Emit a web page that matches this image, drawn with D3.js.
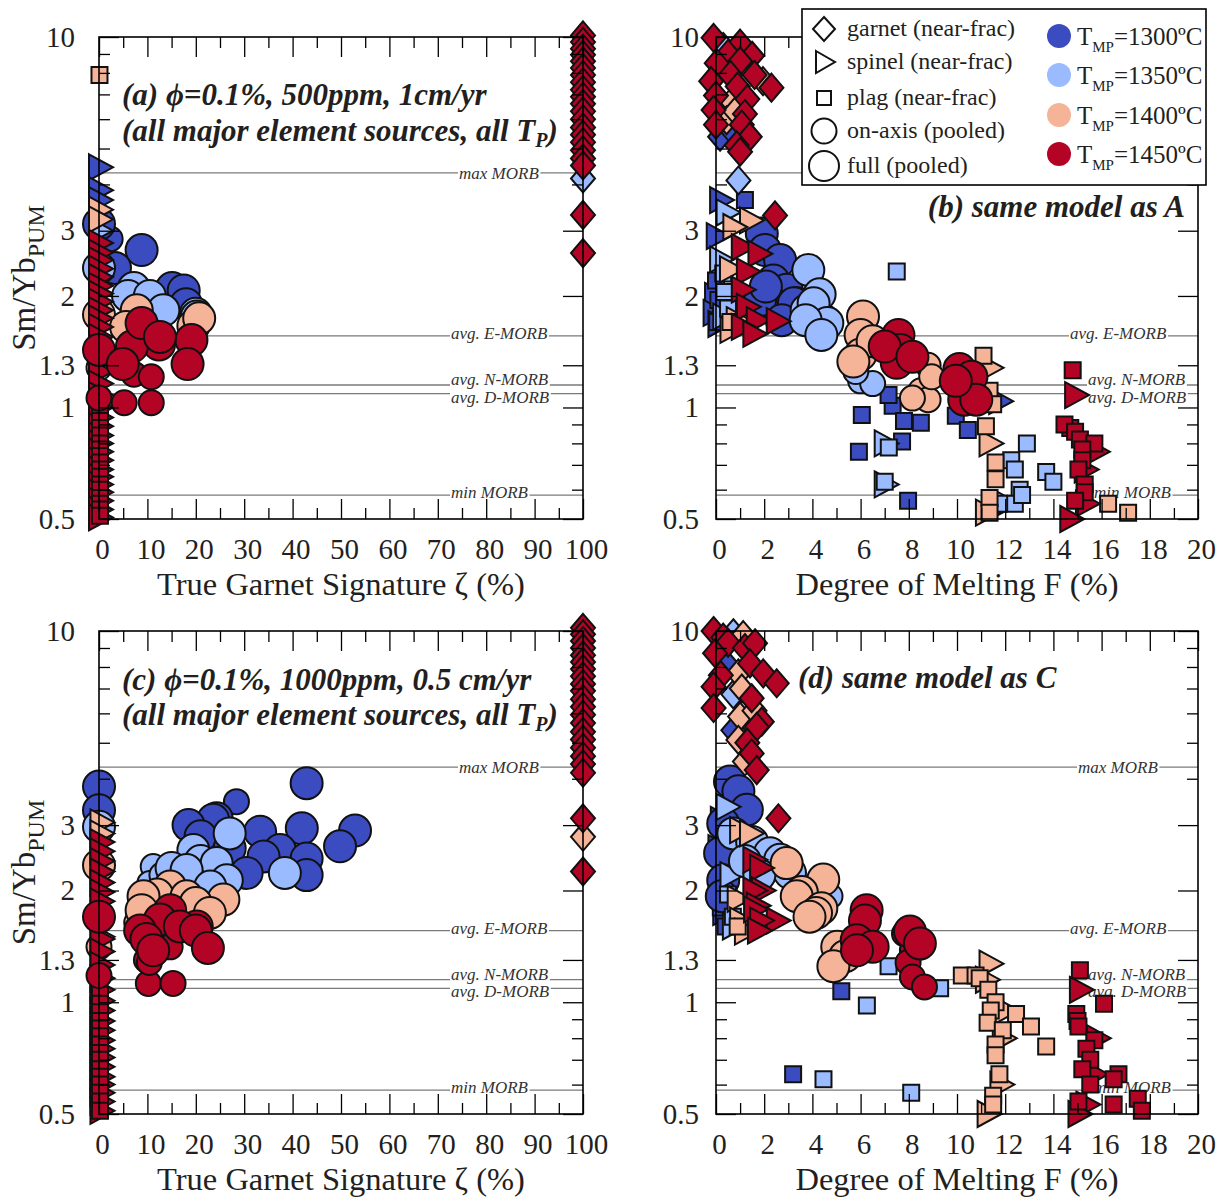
<!DOCTYPE html>
<html>
<head>
<meta charset="utf-8">
<script src="https://cdn.jsdelivr.net/npm/d3@7"></script>
<style>
  body { margin: 0; background: #fff; }
  svg { font-family: "Liberation Serif", "DejaVu Serif", serif; }
</style>
</head>
<body>
<svg id="chart" width="1220" height="1201"></svg>
<script>
'use strict';

// each point: [x value, Sm/Yb_PUM, temperature index]
// ---- panel (a) ----
const aGarnet = [[100,10.1,3],[100,9.7,3],[100,9.3,3],[100,8.95,3],[100,8.6,3],[100,8.25,3],[100,7.9,3],[100,7.55,3],[100,7.2,3],[100,6.9,3],[100,6.6,3],[100,6.3,3],[100,6.0,3],[100,5.7,3],[100,5.45,3],[100,5.2,3],[100,4.95,3],[100,4.7,3],[100,4.5,3],[100,4.15,1],[100,3.31,3],[100,2.61,3]];
const aSpinel = [[0,4.45,0],[0,3.86,0],[0,3.63,0],[0,3.0,1],[0,3.42,2],[0,3.22,2],[0,2.78,3],[0,2.62,3],[0,2.5,3],[0,2.37,3],[0,2.25,3],[0,2.13,3],[0,2.03,3],[0,1.93,3],[0,1.83,3],[0,1.74,3],[0,1.65,3],[0,1.55,3],[0,1.45,3],[0,1.35,3],[0,1.25,3],[0,1.16,3],[0,1.08,3],[0,1.0,3],[0,0.94,3],[0,0.89,3],[0,0.84,3],[0,0.8,3],[0,0.76,3],[0,0.72,3],[0,0.68,3],[0,0.65,3],[0,0.62,3],[0,0.59,3],[0,0.56,3],[0,0.53,3],[0,0.505,3]];
const aPlag = [[0.1,7.9,2],[0.2,1.0,3],[0.2,0.96,3],[0.2,0.92,3],[0.2,0.88,3],[0.2,0.84,3],[0.2,0.8,3],[0.2,0.77,3],[0.2,0.74,3],[0.2,0.71,3],[0.2,0.68,3],[0.2,0.65,3],[0.2,0.62,3],[0.2,0.6,3],[0.2,0.57,3],[0.2,0.55,3],[0.2,0.53,3],[0.2,0.51,3]];
const aOnAxis = [[2.3,2.85,0],[0,1.28,1],[7.2,1.23,3],[10.8,1.21,3],[5.2,1.03,3],[10.8,1.03,3],[0,1.06,3]];
const aFull = [[0,3.13,0],[8.8,2.66,0],[3.3,2.38,0],[15.1,2.1,0],[17.5,2.07,0],[18,1.9,0],
  [0,2.38,1],[7.2,2.1,1],[6,2.0,1],[10.5,2.0,1],[13.3,1.83,1],[20,1.79,1],[20.2,1.76,1],
  [7.8,1.83,2],[0,1.78,2],[5.6,1.65,2],[19.5,1.66,2],[20.7,1.74,2],
  [9.6,1.61,3],[12.4,1.48,3],[19.1,1.52,3],[18.3,1.31,3],[0,1.43,3],[6.8,1.46,3],[8.8,1.69,3],[4.9,1.31,3],[12.6,1.55,3]];

// ---- panel (b) ----
const bGarnet = [[0.17,5.38,0],[0.65,5.6,0],[0.3,9.4,1],[0.93,4.1,1],[1.95,7.6,2],[0.65,6.7,2],[0.44,5.96,2],[0.8,6.3,2],
  [-0.1,9.95,3],[1.0,9.6,3],[0.5,9.0,3],[1.5,8.9,3],[0.03,8.5,3],[1.0,8.6,3],[1.6,7.9,3],[0.6,7.9,3],[2.3,7.3,3],[-0.2,7.6,3],[0.9,7.35,3],[1.3,6.8,3],[0,6.95,3],[-0.1,6.35,3],[1.2,6.2,3],[1.07,5.8,3],[0,5.8,3],[1.4,5.38,3],[0.86,5.1,3],[1.0,4.9,3],[2.45,3.3,3]];
const bSpinel = [[0.17,3.63,0],[0.03,2.9,0],[-0.04,2.0,0],[-0.1,1.8,0],[0.1,1.68,0],[11.75,1.04,0],
  [0.44,3.36,1],[0.17,2.51,1],[0.3,1.76,1],[7.0,0.62,1],[7.0,0.8,1],[12.0,0.55,1],
  [1.41,3.2,2],[0.72,3.07,2],[0.58,2.36,2],[0.86,1.72,2],[0.6,1.62,2],[11.35,0.8,2],[11.35,1.28,2],[11.2,0.52,2],
  [1.07,2.71,3],[1.76,2.6,3],[1.28,2.33,3],[1.07,2.08,3],[1.28,1.87,3],[1.69,1.72,3],[2.52,1.71,3],[1.07,1.65,3],[1.55,1.58,3],[14.9,1.08,3],[15.76,0.76,3],[15.35,0.55,3],[14.7,0.5,3],[15.3,0.68,3]];
const bPlag = [[1.2,3.63,0],[0.0,2.2,0],[0.1,1.95,0],[0.2,1.75,0],[0.05,1.7,0],[6.05,0.955,0],[5.93,0.76,0],[7.33,1.01,0],[7.8,0.92,0],[8.5,0.91,0],[7.72,0.81,0],[7.97,0.56,0],[9.95,0.95,0],[10.45,0.87,0],[7.16,1.08,0],
  [7.5,2.33,1],[0.35,2.05,1],[0.5,1.85,1],[0.3,2.3,1],[7.17,0.78,1],[7.0,0.63,1],[12.9,0.8,1],[12.25,0.72,1],[12.4,0.68,1],[12.6,0.6,1],[12.4,0.55,1],[13.7,0.67,1],[14.0,0.63,1],[11.75,0.55,1],[12.7,0.58,1],
  [0.6,1.7,2],[11.1,1.38,2],[11.35,1.11,2],[11.5,1.02,2],[11.2,0.89,2],[11.6,0.71,2],[11.6,0.64,2],[11.35,0.57,2],[11.35,0.52,2],[16.27,0.55,2],[17.1,0.52,2],
  [14.8,1.26,3],[14.7,0.88,3],[14.46,0.9,3],[14.9,0.86,3],[15.1,0.82,3],[15.7,0.8,3],[15.2,0.77,3],[15.2,0.72,3],[15.04,0.68,3],[15.3,0.62,3],[15.3,0.59,3],[14.9,0.56,3]];
const bOnAxis = [[6.0,1.18,1],[6.5,1.16,1],[5.8,1.25,1],[8.8,1.3,2],[8.5,1.11,2],[8.8,1.05,2],[8.15,1.06,2],[8.95,1.21,2]];
const bFull = [[1.9,2.95,0],[2.03,2.66,0],[2.66,2.5,0],[2.38,2.2,0],[2.93,2.08,0],[2.66,1.87,0],[1.83,1.95,0],[3.35,1.91,0],[2.07,2.12,0],[3.23,1.91,0],[2.73,1.72,0],
  [3.83,2.35,1],[4.3,2.02,1],[3.76,1.83,1],[4.45,1.72,1],[4.05,1.91,1],[4.62,1.69,1],[3.72,1.72,1],[4.37,1.57,1],
  [6.1,1.76,2],[6.0,1.57,2],[6.0,1.39,2],[6.5,1.51,2],[5.7,1.33,2],
  [7.57,1.57,3],[7.65,1.43,3],[7.5,1.32,3],[7.0,1.46,3],[8.15,1.37,3],[10.1,1.27,3],[10.6,1.21,3],[10.3,1.05,3],[10.8,1.05,3],[9.95,1.18,3]];

// ---- panel (c) ----
const cGarnet = [[100,10.2,3],[100,9.8,3],[100,9.4,3],[100,9.0,3],[100,8.6,3],[100,8.25,3],[100,7.9,3],[100,7.55,3],[100,7.2,3],[100,6.9,3],[100,6.55,3],[100,6.25,3],[100,5.95,3],[100,5.65,3],[100,5.35,3],[100,5.1,3],[100,4.85,3],[100,4.6,3],[100,4.38,3],[100,4.15,3],[100,3.13,3],[100,2.79,2],[100,2.25,3]];
const cSpinel = [[0.3,3.05,2],[0.3,2.85,2],[0.3,2.7,3],[0.3,2.55,3],[0.3,2.4,3],[0.3,2.25,3],[0.3,2.1,3],[0.3,1.98,3],[0.3,1.87,3],[0.3,1.5,2],[0.3,1.48,3],[0.3,1.37,3],[0.3,1.26,3],[0.3,1.16,3],[0.3,1.08,3],[0.3,1.01,3],[0.3,0.95,3],[0.3,0.89,3],[0.3,0.84,3],[0.3,0.79,3],[0.3,0.75,3],[0.3,0.71,3],[0.3,0.67,3],[0.3,0.63,3],[0.3,0.6,3],[0.3,0.57,3],[0.3,0.54,3],[0.3,0.51,3]];
const cPlag = [[0.2,1.05,3],[0.2,0.99,3],[0.2,0.94,3],[0.2,0.89,3],[0.2,0.85,3],[0.2,0.81,3],[0.2,0.77,3],[0.2,0.73,3],[0.2,0.7,3],[0.2,0.66,3],[0.2,0.63,3],[0.2,0.6,3],[0.2,0.57,3],[0.2,0.54,3],[0.2,0.51,3]];
const cOnAxis = [[28.4,3.47,0],[38,2.45,0],[11.2,2.32,1],[10.5,2.09,1],[13,2.2,1],[7.8,1.64,2],[0,1.41,2],[0,1.18,3],[14.7,1.41,3],[9.8,1.30,3],[10.2,1.124,3],[15.3,1.124,3],[11.4,1.35,3],[10.4,1.28,3]];
const cFull = [[0,3.81,0],[0,3.29,0],[42.9,3.89,0],[24.3,3.13,0],[23.6,3.1,0],[18.5,3.0,0],[21,2.8,0],[33.3,2.88,0],[41.9,2.94,0],[52.9,2.9,0],[49.8,2.63,0],[37.4,2.57,0],[27,2.6,0],[34,2.47,0],[42.9,2.44,0],[42.9,2.2,0],[30.5,2.23,0],
  [0,2.97,1],[27,2.85,1],[19.5,2.57,1],[21,2.4,1],[24.3,2.37,1],[15,2.3,1],[18.1,2.27,1],[38.4,2.23,1],[26.4,2.13,1],[23,2.05,1],
  [0,2.34,2],[14.7,2.05,2],[12,1.95,2],[9.2,1.93,2],[18.1,1.93,2],[25.7,1.89,2],[20,1.85,2],[22.9,1.74,2],[8.8,1.77,2],
  [0,1.70,3],[14.7,1.77,3],[12.6,1.67,3],[20.2,1.60,3],[16.7,1.6,3],[8.5,1.56,3],[20,1.56,3],[9.8,1.48,3],[11.2,1.38,3],[22.5,1.40,3]];

// ---- panel (d) ----
const dGarnet = [[0.72,5.4,0],[0.4,8.2,0],[0.72,9.86,1],[0.72,6.75,1],
  [1.13,9.75,2],[0.93,7.69,2],[1.07,7.0,2],[1.0,5.88,2],[0.93,5.09,2],[1.6,6.1,2],[1.2,4.45,2],
  [-0.1,10,3],[0.3,9.6,3],[0.5,9.3,3],[1.2,9.0,3],[1.62,9.27,3],[-0.04,8.71,3],[1.41,8.18,3],[0.2,7.6,3],[1.96,7.69,3],[2.52,7.23,3],[-0.1,7.08,3],[1.48,6.59,3],[-0.1,6.2,3],[1.9,5.7,3],[1.69,5.52,3],[1.3,5.0,3],[1.48,4.68,3],[1.69,4.22,3],[2.59,3.13,3]];
const dSpinel = [[0.2,3.1,0],[0.1,2.6,0],[0.3,1.75,0],[0.44,3.36,1],[0.6,2.2,1],[0.7,1.6,1],
  [1.0,2.91,2],[1.41,2.85,2],[0.9,1.9,2],[1.0,1.66,2],[1.2,1.55,2],[11.35,1.27,2],[11.27,0.5,2],[11.8,0.6,2],[11.9,0.8,2],[11.2,1.15,2],[12.0,0.95,2],
  [1.55,2.42,3],[1.83,2.30,3],[1.9,2.0,3],[1.55,2.0,3],[1.69,1.82,3],[1.58,1.78,3],[2.52,1.66,3],[1.83,1.66,3],[1.74,1.56,3],[15.1,1.08,3],[15.8,0.8,3],[15.7,0.64,3],[15.37,0.53,3],[15.04,0.5,3]];
const dPlag = [[0.1,2.1,0],[0.2,1.8,0],[0.4,1.6,0],[5.2,1.07,0],[3.2,0.64,0],
  [0.5,1.95,1],[0.7,1.7,1],[6.26,0.98,1],[4.46,0.62,1],[8.1,0.57,1],[9.3,1.09,1],[5.03,1.25,1],[7.16,1.25,1],
  [0.9,1.6,2],[10.2,1.18,2],[10.77,1.18,2],[10.94,1.16,2],[11.3,1.08,2],[11.6,1.0,2],[11.4,0.95,2],[12.45,0.93,2],[11.27,0.88,2],[11.9,0.84,2],[13.07,0.86,2],[13.7,0.76,2],[11.6,0.77,2],[11.6,0.72,2],[11.76,0.64,2],[11.5,0.56,2],[11.5,0.53,2],
  [15.1,1.22,3],[16.1,0.99,3],[14.95,0.93,3],[15.0,0.89,3],[15.04,0.86,3],[15.7,0.79,3],[15.37,0.75,3],[15.53,0.70,3],[15.2,0.66,3],[16.7,0.64,3],[16.5,0.62,3],[15.53,0.60,3],[15.04,0.54,3],[16.5,0.53,3],[17.5,0.55,3],[17.67,0.51,3]];
const dOnAxis = [[4.73,1.93,1],[3.9,2.0,1],[7.82,1.53,3],[8.48,1.41,3],[8.15,1.38,3],[7.97,1.28,3],[8.15,1.17,3],[8.65,1.10,3]];
const dFull = [[0.58,3.93,0],[0.93,3.70,0],[1.28,3.3,0],[0.3,3.03,0],[0.17,2.52,0],[0.3,2.13,0],[0.24,1.93,0],
  [0.72,2.85,1],[1.5,2.7,1],[2.24,2.52,1],[2.66,2.42,1],[1.2,2.4,1],[3.07,2.23,1],[1.8,2.2,1],
  [2.93,2.37,2],[4.45,2.14,2],[3.56,1.98,2],[3.35,1.93,2],[4.37,1.79,2],[4.15,1.74,2],[3.88,1.70,2],[5.03,1.41,2],[5.36,1.33,2],[4.87,1.25,2],
  [6.25,1.77,3],[6.18,1.66,3],[5.84,1.47,3],[6.5,1.41,3],[5.85,1.38,3],[8.05,1.55,3],[8.46,1.44,3]];

// reference MORB lines
const refValues = [4.3, 1.56, 1.15, 1.09, 0.58];
const refNames = ['max MORB', 'avg. E-MORB', 'avg. N-MORB', 'avg. D-MORB', 'min MORB'];

// ticks
const yMajorTicks = [10, 3, 2, 1.3, 1, 0.5];
const yMinorTicks = [9, 8, 7, 6, 5, 4, 0.9, 0.8, 0.7, 0.6];
const zetaMajorTicks = [0, 10, 20, 30, 40, 50, 60, 70, 80, 90, 100];
const zetaMinorTicks = [5, 15, 25, 35, 45, 55, 65, 75, 85, 95];
const meltMajorTicks = [0, 2, 4, 6, 8, 10, 12, 14, 16, 18, 20];
const meltMinorTicks = [1, 3, 5, 7, 9, 11, 13, 15, 17, 19];

// legend
const typeLabels = ['garnet (near-frac)', 'spinel (near-frac)', 'plag (near-frac)', 'on-axis (pooled)', 'full (pooled)'];
const tempLabels = ['=1300ºC', '=1350ºC', '=1400ºC', '=1450ºC'];

const TEXT_COLOR = '#231f20';
const TEMP_COLORS = ['#3b4cc0', '#9abbff', '#f5b498', '#b40426'];
const TYPE_ORDER = ['garnet', 'spinel', 'plag', 'onAxis', 'full'];

const circlePath = r => `M${r},0A${r},${r} 0 1,1 ${-r},0A${r},${r} 0 1,1 ${r},0Z`;

const SHAPES = {
    garnet: 'M0,-14L12,0L0,14L-12,0Z',
    spinel: 'M-10,-13L14,0L-10,13Z',
    plag: 'M-8,-8L8,-8L8,8L-8,8Z',
    onAxis: circlePath(12.5),
    full: circlePath(16)
};

// refStart: x where each MORB label begins (null = hidden under the legend)
const PANELS = [
    { left: 99, right: 583, top: 37, bottom: 519, xDomain: [0, 100], xMajor: zetaMajorTicks, xMinor: zetaMinorTicks,
      xTitle: 'True Garnet Signature ζ (%)', yTitle: true, yGap: 24, refStart: [459, 451, 451, 451, 451],
      data: { garnet: aGarnet, spinel: aSpinel, plag: aPlag, onAxis: aOnAxis, full: aFull } },
    { left: 716, right: 1198, top: 37, bottom: 519, xDomain: [0, 20], xMajor: meltMajorTicks, xMinor: meltMinorTicks,
      xTitle: 'Degree of Melting F (%)', yTitle: false, yGap: 17, refStart: [null, 1070, 1088, 1088, 1094],
      data: { garnet: bGarnet, spinel: bSpinel, plag: bPlag, onAxis: bOnAxis, full: bFull } },
    { left: 99, right: 583, top: 631, bottom: 1114, xDomain: [0, 100], xMajor: zetaMajorTicks, xMinor: zetaMinorTicks,
      xTitle: 'True Garnet Signature ζ (%)', yTitle: true, yGap: 24, refStart: [459, 451, 451, 451, 451],
      data: { garnet: cGarnet, spinel: cSpinel, plag: cPlag, onAxis: cOnAxis, full: cFull } },
    { left: 716, right: 1198, top: 631, bottom: 1114, xDomain: [0, 20], xMajor: meltMajorTicks, xMinor: meltMinorTicks,
      xTitle: 'Degree of Melting F (%)', yTitle: false, yGap: 17, refStart: [1078, 1070, 1088, 1088, 1094],
      data: { garnet: dGarnet, spinel: dSpinel, plag: dPlag, onAxis: dOnAxis, full: dFull } }
];

// baseline offsets of the MORB labels relative to their lines
const REF_LABEL_DY = [6, 3, 0, 9, 3];

const svg = d3.select('#chart');

const styleAxis = (sel, fontSize) => {
    sel.select('.domain').remove();
    sel.attr('font-family', '"Liberation Serif", serif').attr('font-size', fontSize);
    sel.selectAll('line').attr('stroke', '#000').attr('stroke-width', 1.3);
    sel.selectAll('text').attr('fill', TEXT_COLOR);
};

const drawPanel = (p) => {
    const x = d3.scaleLinear().domain(p.xDomain).range([p.left, p.right]);
    const y = d3.scaleLog().domain([0.5, 10]).range([p.bottom, p.top]);
    const g = svg.append('g');

    // MORB reference lines
    g.selectAll('line.ref')
        .data(refValues)
        .join('line')
        .attr('class', 'ref')
        .attr('x1', p.left).attr('x2', p.right)
        .attr('y1', d => y(d)).attr('y2', d => y(d))
        .attr('stroke', '#7a7a7a')
        .attr('stroke-width', 1.3);

    refValues.forEach((v, i) => {
        if (p.refStart[i] === null) return;
        const lg = g.append('g');
        const bg = lg.append('rect').attr('fill', '#fff');
        const t = lg.append('text')
            .attr('x', p.refStart[i])
            .attr('y', y(v) + REF_LABEL_DY[i])
            .attr('font-size', 17)
            .attr('font-style', 'italic')
            .attr('fill', '#333')
            .text(refNames[i]);
        const bb = t.node().getBBox();
        bg.attr('x', bb.x - 1).attr('y', bb.y + 3).attr('width', bb.width + 2).attr('height', bb.height - 6);
    });

    // markers, grouped by temperature then by type
    const marks = [];
    [0, 1, 2, 3].forEach(t => {
        TYPE_ORDER.forEach(type => {
            p.data[type].filter(d => d[2] === t).forEach(d => {
                marks.push({ type: type, xv: d[0], v: d[1], t: t });
            });
        });
    });

    g.selectAll('path.mark')
        .data(marks)
        .join('path')
        .attr('class', 'mark')
        .attr('d', d => SHAPES[d.type])
        .attr('transform', d => `translate(${x(d.xv)},${y(d.v)})`)
        .attr('fill', d => TEMP_COLORS[d.t])
        .attr('stroke', '#111')
        .attr('stroke-width', 2)
        .attr('stroke-linejoin', 'miter');

    // axes
    g.append('g')
        .attr('transform', `translate(0,${p.bottom})`)
        .call(d3.axisBottom(x).tickValues(p.xMajor).tickSizeInner(-20).tickSizeOuter(0).tickPadding(19).tickFormat(d => d))
        .call(s => styleAxis(s, 29))
        .call(s => s.selectAll('text').attr('dx', 3));
    g.append('g')
        .attr('transform', `translate(0,${p.bottom})`)
        .call(d3.axisBottom(x).tickValues(p.xMinor).tickSizeInner(-11).tickSizeOuter(0).tickFormat(''))
        .call(s => styleAxis(s, 29));
    g.append('g')
        .attr('transform', `translate(0,${p.top})`)
        .call(d3.axisTop(x).tickValues(p.xMajor).tickSizeInner(-20).tickSizeOuter(0).tickFormat(''))
        .call(s => styleAxis(s, 29));
    g.append('g')
        .attr('transform', `translate(0,${p.top})`)
        .call(d3.axisTop(x).tickValues(p.xMinor).tickSizeInner(-11).tickSizeOuter(0).tickFormat(''))
        .call(s => styleAxis(s, 29));

    g.append('g')
        .attr('transform', `translate(${p.left},0)`)
        .call(d3.axisLeft(y).tickValues(yMajorTicks).tickSizeInner(-20).tickSizeOuter(0).tickPadding(p.yGap).tickFormat(d => d))
        .call(s => styleAxis(s, 29));
    g.append('g')
        .attr('transform', `translate(${p.left},0)`)
        .call(d3.axisLeft(y).tickValues(yMinorTicks).tickSizeInner(-11).tickSizeOuter(0).tickFormat(''))
        .call(s => styleAxis(s, 29));
    g.append('g')
        .attr('transform', `translate(${p.right},0)`)
        .call(d3.axisRight(y).tickValues(yMajorTicks).tickSizeInner(-20).tickSizeOuter(0).tickFormat(''))
        .call(s => styleAxis(s, 29));
    g.append('g')
        .attr('transform', `translate(${p.right},0)`)
        .call(d3.axisRight(y).tickValues(yMinorTicks).tickSizeInner(-11).tickSizeOuter(0).tickFormat(''))
        .call(s => styleAxis(s, 29));

    // frame
    g.append('rect')
        .attr('x', p.left).attr('y', p.top)
        .attr('width', p.right - p.left).attr('height', p.bottom - p.top)
        .attr('fill', 'none')
        .attr('stroke', '#000')
        .attr('stroke-width', 1.6);

    // axis titles
    g.append('text')
        .attr('x', (p.left + p.right) / 2)
        .attr('y', p.bottom + 76)
        .attr('text-anchor', 'middle')
        .attr('font-size', 32.5)
        .attr('fill', TEXT_COLOR)
        .text(p.xTitle);

    if (p.yTitle) {
        const yt = g.append('text')
            .attr('transform', `translate(35,${(p.top + p.bottom) / 2}) rotate(-90)`)
            .attr('text-anchor', 'middle')
            .attr('font-size', 33)
            .attr('fill', TEXT_COLOR);
        yt.append('tspan').text('Sm/Yb');
        yt.append('tspan').attr('font-size', 24).attr('dy', 9).text('PUM');
    }

    return g;
};

PANELS.forEach(drawPanel);

// panel annotations
const annot = (xPos, yPos, anchor) => svg.append('text')
    .attr('x', xPos).attr('y', yPos)
    .attr('text-anchor', anchor)
    .attr('font-size', 31)
    .attr('font-weight', 'bold')
    .attr('font-style', 'italic')
    .attr('fill', TEXT_COLOR);

annot(122, 105, 'start').text('(a) ϕ=0.1%, 500ppm, 1cm/yr');
const a2 = annot(122, 141, 'start');
a2.append('tspan').text('(all major element sources, all T');
a2.append('tspan').attr('font-size', 20).attr('dy', 6).text('P');
a2.append('tspan').attr('dy', -6).text(')');

annot(1185, 217, 'end').text('(b) same model as A');

annot(122, 690, 'start').text('(c) ϕ=0.1%, 1000ppm, 0.5 cm/yr');
const c2 = annot(122, 725, 'start');
c2.append('tspan').text('(all major element sources, all T');
c2.append('tspan').attr('font-size', 20).attr('dy', 6).text('P');
c2.append('tspan').attr('dy', -6).text(')');

annot(798, 688, 'start').text('(d) same model as C');

// legend
const legend = svg.append('g');
legend.append('rect')
    .attr('x', 802).attr('y', 9)
    .attr('width', 404).attr('height', 176)
    .attr('fill', '#fff')
    .attr('stroke', '#000')
    .attr('stroke-width', 1.6);

const LEGEND_SHAPES = ['M0,-12L11,0L0,12L-11,0Z', 'M-8,-11L11,0L-8,11Z', 'M-7,-7L7,-7L7,7L-7,7Z', circlePath(12.5), circlePath(15)];
const legendRowY = [29, 62, 98, 131, 166];

legend.selectAll('path.lsym')
    .data(typeLabels)
    .join('path')
    .attr('class', 'lsym')
    .attr('d', (d, i) => LEGEND_SHAPES[i])
    .attr('transform', (d, i) => `translate(824,${legendRowY[i]})`)
    .attr('fill', '#fff')
    .attr('stroke', '#111')
    .attr('stroke-width', 2);

legend.selectAll('text.ltype')
    .data(typeLabels)
    .join('text')
    .attr('class', 'ltype')
    .attr('x', 847)
    .attr('y', (d, i) => legendRowY[i] + 7)
    .attr('font-size', 24)
    .attr('fill', TEXT_COLOR)
    .text(d => d);

const tempRowY = [36, 75, 115, 154];
legend.selectAll('circle.ltemp')
    .data(tempLabels)
    .join('circle')
    .attr('class', 'ltemp')
    .attr('cx', 1059)
    .attr('cy', (d, i) => tempRowY[i])
    .attr('r', 12)
    .attr('fill', (d, i) => TEMP_COLORS[i]);

tempLabels.forEach((lab, i) => {
    const t = legend.append('text')
        .attr('x', 1077)
        .attr('y', tempRowY[i] + 9)
        .attr('font-size', 25)
        .attr('fill', TEXT_COLOR);
    t.append('tspan').text('T');
    t.append('tspan').attr('font-size', 15).attr('dy', 7).text('MP');
    t.append('tspan').attr('dy', -7).text(lab);
});
</script>
</body>
</html>
